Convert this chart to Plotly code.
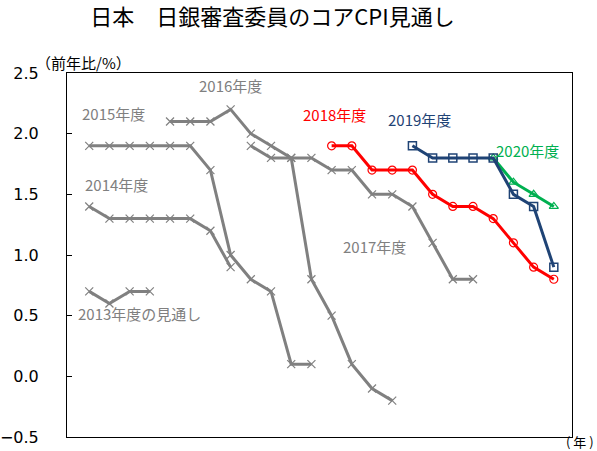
import plotly.graph_objects as go

# x positions are evenly spaced forecast rounds (index 0..23)
fy2013_x = [0, 1, 2, 3]
fy2013_y = [0.7, 0.6, 0.7, 0.7]

fy2014_x = [0, 1, 2, 3, 4, 5, 6, 7]
fy2014_y = [1.4, 1.3, 1.3, 1.3, 1.3, 1.3, 1.2, 0.9]

fy2015_x = [0, 1, 2, 3, 4, 5, 6, 7, 8, 9, 10, 11]
fy2015_y = [1.9, 1.9, 1.9, 1.9, 1.9, 1.9, 1.7, 1.0, 0.8, 0.7, 0.1, 0.1]

fy2016_x = [4, 5, 6, 7, 8, 9, 10, 11, 12, 13, 14, 15]
fy2016_y = [2.1, 2.1, 2.1, 2.2, 2.0, 1.9, 1.8, 0.8, 0.5, 0.1, -0.1, -0.2]

fy2017_x = [8, 9, 10, 11, 12, 13, 14, 15, 16, 17, 18, 19]
fy2017_y = [1.9, 1.8, 1.8, 1.8, 1.7, 1.7, 1.5, 1.5, 1.4, 1.1, 0.8, 0.8]

fy2018_x = [12, 13, 14, 15, 16, 17, 18, 19, 20, 21, 22, 23]
fy2018_y = [1.9, 1.9, 1.7, 1.7, 1.7, 1.5, 1.4, 1.4, 1.3, 1.1, 0.9, 0.8]

fy2019_x = [16, 17, 18, 19, 20, 21, 22, 23]
fy2019_y = [1.9, 1.8, 1.8, 1.8, 1.8, 1.5, 1.4, 0.9]

fy2020_x = [20, 21, 22, 23]
fy2020_y = [1.8, 1.6, 1.5, 1.4]

y_ticks = [-0.5, 0.0, 0.5, 1.0, 1.5, 2.0, 2.5]

GRAY = "#808080"
RED = "#FF0000"
NAVY = "#1F4375"
GREEN = "#00B050"

fig = go.Figure()

def gray_trace(x, y):
    fig.add_trace(go.Scatter(
        x=x, y=y, mode="lines+markers",
        line=dict(color=GRAY, width=3),
        marker=dict(symbol="x-thin-open", size=8, line=dict(color=GRAY, width=1.2)),
        showlegend=False, hoverinfo="skip"))

for xs, ys in [(fy2013_x, fy2013_y), (fy2014_x, fy2014_y), (fy2015_x, fy2015_y),
               (fy2016_x, fy2016_y), (fy2017_x, fy2017_y)]:
    gray_trace(xs, ys)

fig.add_trace(go.Scatter(
    x=fy2018_x, y=fy2018_y, mode="lines+markers",
    line=dict(color=RED, width=3),
    marker=dict(symbol="circle-open", size=8, color=RED, line=dict(color=RED, width=1.2)),
    showlegend=False))
fig.add_trace(go.Scatter(
    x=fy2020_x, y=fy2020_y, mode="lines+markers",
    line=dict(color=GREEN, width=3),
    marker=dict(symbol="triangle-up-open", size=8, color=GREEN, line=dict(color=GREEN, width=1.2)),
    showlegend=False))
fig.add_trace(go.Scatter(
    x=fy2019_x, y=fy2019_y, mode="lines+markers",
    line=dict(color=NAVY, width=3),
    marker=dict(symbol="square-open", size=8, color=NAVY, line=dict(color=NAVY, width=1.5)),
    showlegend=False))

LABEL_FONT = "Noto Sans CJK JP, sans-serif"
labels = [
    ("2016年度", 6.97, 2.40, GRAY),
    ("2015年度", 1.22, 2.17, GRAY),
    ("2014年度", 1.37, 1.585, GRAY),
    ("2013年度の見通し", 2.5, 0.52, GRAY),
    ("2017年度", 14.14, 1.074, GRAY),
    ("2018年度", 12.16, 2.16, RED),
    ("2019年度", 16.37, 2.12, NAVY),
    ("2020年度", 21.72, 1.865, GREEN),
]
for text, lx, ly, col in labels:
    fig.add_annotation(x=lx, y=ly, xref="x", yref="y", text=text, showarrow=False,
                       xanchor="center", yanchor="middle",
                       font=dict(family=LABEL_FONT, size=15, color=col))

W, H = 597, 451
ml, mr, mt, mb = 67, 25, 73, 14
pw, ph = W - ml - mr, H - mt - mb

def px(xp):
    return (xp - ml) / pw

def py(yp):
    return 1 - (yp - mt) / ph

fig.add_annotation(x=px(83), y=py(62), xref="paper", yref="paper",
                   text="（前年比/%）", showarrow=False, xanchor="center", yanchor="middle",
                   font=dict(family=LABEL_FONT, size=15, color="black"))
fig.add_annotation(x=px(596), y=py(441), xref="paper", yref="paper",
                   text="( 年 )", showarrow=False, xanchor="right", yanchor="middle",
                   font=dict(family=LABEL_FONT, size=13, color="black"))

fig.update_layout(
    width=W, height=H,
    margin=dict(l=ml, r=mr, t=mt, b=mb),
    paper_bgcolor="white", plot_bgcolor="white",
    title=dict(text="日本　日銀審査委員のコアCPI見通し", x=272.5 / W, xref="container",
               xanchor="center", y=1 - 17 / H, yref="container", yanchor="middle",
               automargin=False,
               font=dict(family=LABEL_FONT, size=22, color="black")),
    xaxis=dict(range=[-1.1, 23.9], showticklabels=False, ticks="", showgrid=False,
               zeroline=False, showline=True, linecolor="black", linewidth=1, mirror=True,
               automargin=False),
    yaxis=dict(range=[-0.5, 2.5], tickvals=y_ticks, tickformat=".1f", ticks="inside",
               ticklen=5, tickcolor="black", showgrid=False, zeroline=False,
               showline=True, linecolor="black", linewidth=1, mirror=True,
               ticklabelstandoff=24, automargin=False,
               tickfont=dict(family="DejaVu Sans, sans-serif", size=16, color="black")),
)

fig.write_html("out.html", config={"displayModeBar": False},
               post_script="document.body.style.margin='0';document.body.style.overflow='hidden';")
